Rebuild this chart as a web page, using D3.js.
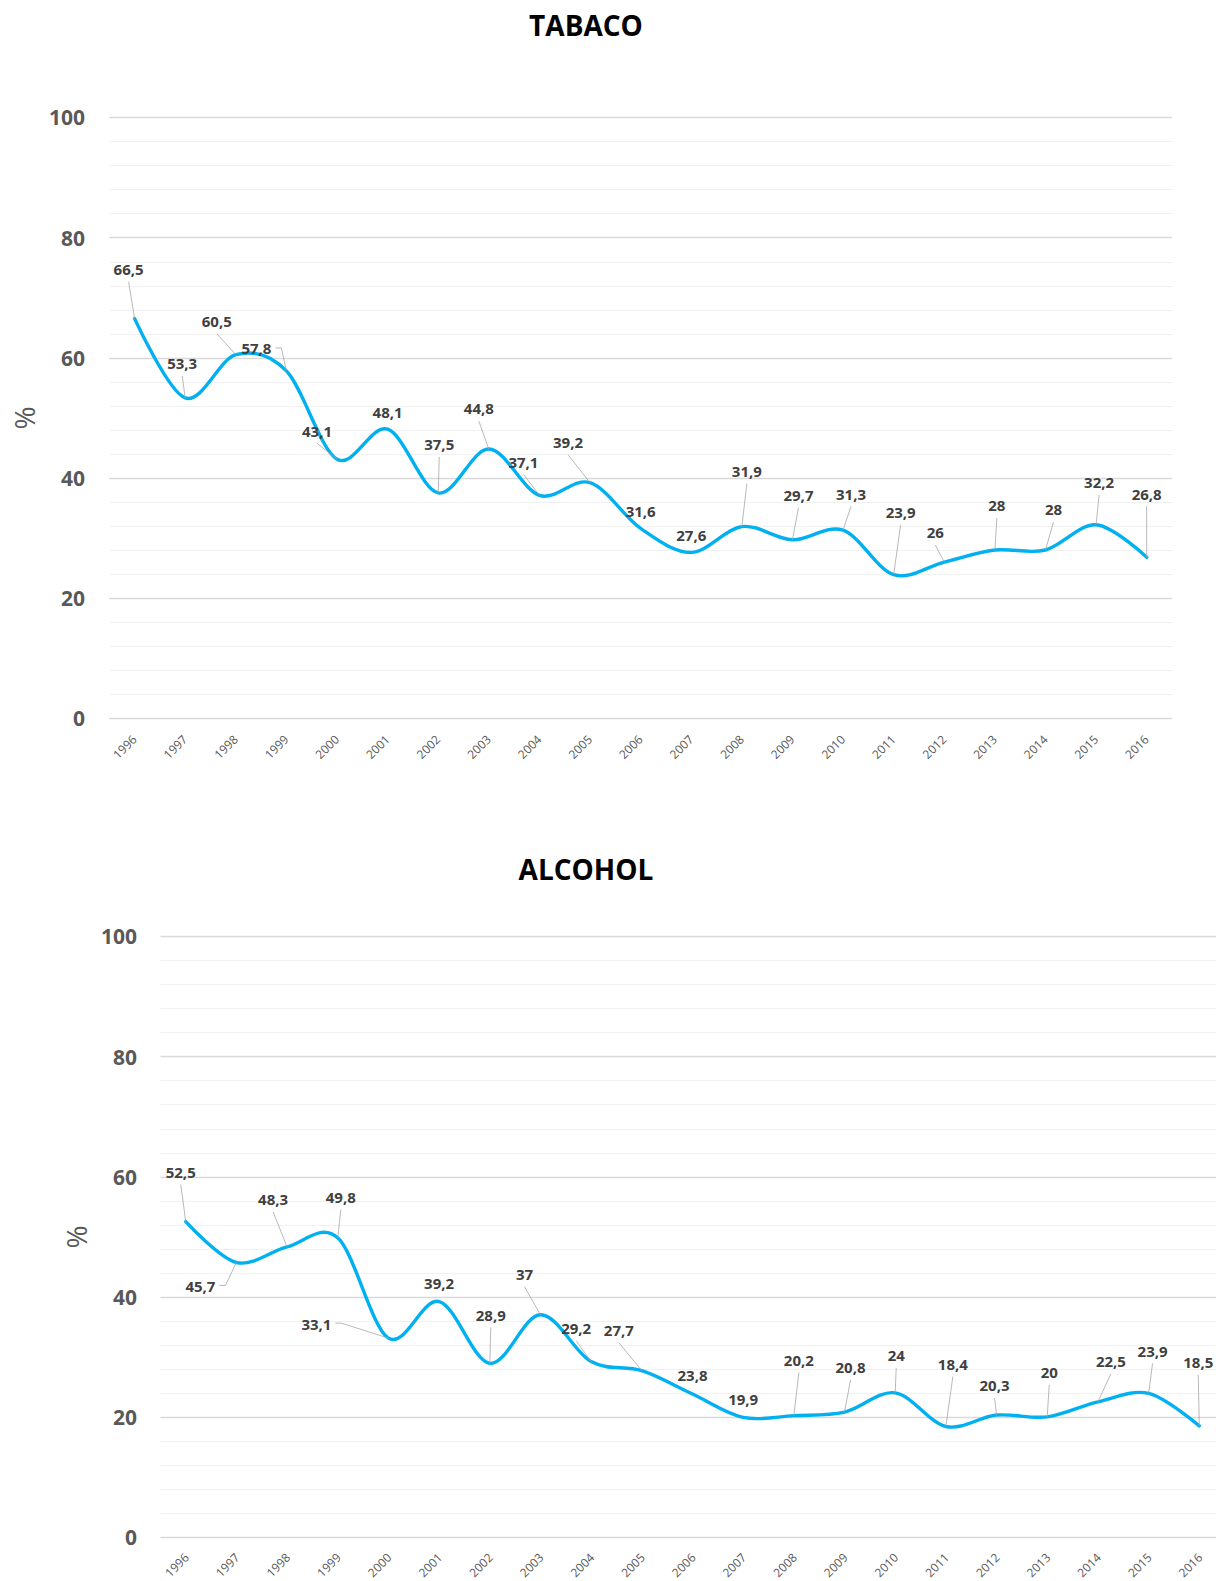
<!DOCTYPE html>
<html>
<head>
<meta charset="utf-8">
<script src="https://cdn.jsdelivr.net/npm/d3@7"></script>
<style>
  html, body { margin: 0; padding: 0; background: #fff; overflow: hidden; }
  svg { display: block; font-family: "Open Sans", "DejaVu Sans", sans-serif; }
</style>
</head>
<body>
<svg id="chart" width="1216" height="1581"></svg>
<script>
// Survey years shared by both series
const years = ["1996","1997","1998","1999","2000","2001","2002","2003","2004","2005","2006",
               "2007","2008","2009","2010","2011","2012","2013","2014","2015","2016"];

// Prevalence (%) per year
const tabacoValues  = [66.5,53.3,60.5,57.8,43.1,48.1,37.5,44.8,37.1,39.2,31.6,27.6,31.9,29.7,31.3,23.9,26,28,28,32.2,26.8];
const alcoholValues = [52.5,45.7,48.3,49.8,33.1,39.2,28.9,37,29.2,27.7,23.8,19.9,20.2,20.8,24,18.4,20.3,20,22.5,23.9,18.5];

// Y axis labels and gridline step
const yTickValues = [0, 20, 40, 60, 80, 100];
const yGridStep = 4;

// Hand placement of value labels: [dx, dy, leader] relative to the point.
// leader: "b" = line from label bottom, "r" = elbow from the label's right side, "" = none
const tabacoLabelLayout = [
  [-6,-49,"b"],[-3,-34,"b"],[-19,-33,"b"],[-30,-22,"r"],[-20,-28,"b"],[0,-17,""],
  [1,-48,"b"],[-10,-40,"b"],[-16,-33,"b"],[-22,-40,"b"],[0,-17,""],[0,-17,""],
  [5,-55,"b"],[6,-44,"b"],[8,-36,"b"],[7,-62,"b"],[-9,-29,"b"],[2,-44,"b"],
  [8,-40,"b"],[3,-42,"b"],[0,-63,"b"]
];
const alcoholLabelLayout = [
  [-5,-49,"b"],[-36,24,"r"],[-14,-47,"b"],[3,-40,"b"],[-72,-14,"r"],[0,-18,""],
  [1,-48,"b"],[-16,-40,"b"],[-15,-33,"b"],[-23,-40,"b"],[0,-18,""],[0,-18,""],
  [5,-55,"b"],[6,-44,"b"],[1,-37,"b"],[7,-62,"b"],[-2,-29,"b"],[2,-44,"b"],
  [13,-40,"b"],[4,-42,"b"],[-1,-63,"b"]
];

const fmt = v => String(v).replace(".", ",");
const svg = d3.select("#chart");

function drawChart(cfg) {
  const g = svg.append("g");

  const x = d3.scaleBand().domain(years).range([cfg.left, cfg.right]);
  const y = d3.scaleLinear().domain([0, 100]).range([cfg.bottom, cfg.top]);
  const cx = d => x(d) + x.bandwidth() / 2;

  // gridlines (major every 20, minor every 4)
  g.append("g").selectAll("line")
    .data(d3.range(0, 100 + 0.001, yGridStep))
    .join("line")
    .attr("x1", cfg.left).attr("x2", cfg.right)
    .attr("y1", d => Math.round(y(d)) + 0.5).attr("y2", d => Math.round(y(d)) + 0.5)
    .attr("stroke", d => d % 20 === 0 ? "#d9d9d9" : "#f0f0f0")
    .attr("stroke-width", d => d % 20 === 0 ? 1.5 : 1);

  // y tick labels
  const yAxis = g.append("g")
    .attr("transform", `translate(${cfg.yLabelRight},0)`)
    .call(d3.axisLeft(y).tickValues(yTickValues).tickSize(0).tickPadding(0));
  yAxis.select(".domain").remove();
  yAxis.selectAll("text")
    .attr("font-family", "'Open Sans', sans-serif")
    .attr("font-size", 21).attr("font-weight", 700).attr("fill", "#595959")
    .attr("dy", "0.36em");

  // x tick labels, rotated
  const xAxis = g.append("g")
    .attr("transform", `translate(0,${cfg.bottom})`)
    .call(d3.axisBottom(x).tickSize(0));
  xAxis.select(".domain").remove();
  xAxis.selectAll("text")
    .attr("font-family", "'Open Sans', sans-serif")
    .attr("font-size", 12).attr("fill", "#595959")
    .attr("y", 0).attr("dy", 0).attr("x", 0)
    .attr("text-anchor", "end")
    .attr("transform", `translate(${cfg.xLabelDx},${cfg.xLabelDy}) rotate(-45)`);

  // title
  g.append("text")
    .attr("x", cfg.titleX).attr("y", cfg.titleY)
    .attr("text-anchor", "middle")
    .attr("font-size", 28).attr("font-weight", 700).attr("fill", "#000")
    .text(cfg.title);

  // y axis name
  g.append("text")
    .attr("transform", `translate(${cfg.pctX},${cfg.pctY}) rotate(-90)`)
    .attr("text-anchor", "middle")
    .attr("font-size", 28).attr("fill", "#595959")
    .text("%");

  // smoothed series line
  const line = d3.line()
    .x((d, i) => cx(years[i]))
    .y(d => y(d))
    .curve(d3.curveCatmullRom.alpha(0));

  g.append("path")
    .datum(cfg.values)
    .attr("d", line)
    .attr("fill", "none")
    .attr("stroke", "#00b0f0")
    .attr("stroke-width", 3.4)
    .attr("stroke-linecap", "round")
    .attr("stroke-linejoin", "round");

  // value labels with leader lines
  const labels = g.append("g");
  cfg.values.forEach((v, i) => {
    const px = cx(years[i]), py = y(v);
    const [dx, dy, leader] = cfg.layout[i];
    const lx = px + dx, ly = py + dy;
    const t = labels.append("text")
      .attr("x", lx).attr("y", ly).attr("dy", "0.36em")
      .attr("text-anchor", "middle")
      .attr("font-size", 15).attr("font-weight", 700).attr("fill", "#404040")
      .text(fmt(v));
    const w = t.node().getComputedTextLength();
    if (leader === "b") {
      labels.insert("line", "text")
        .attr("x1", lx).attr("y1", ly + 12)
        .attr("x2", px).attr("y2", py)
        .attr("stroke", "#a6a6a6").attr("stroke-width", 0.8);
    } else if (leader === "r") {
      const sx = lx + w / 2 + 4, sy = ly - 1;
      labels.insert("polyline", "text")
        .attr("points", `${sx},${sy} ${sx + 6},${sy} ${px},${py}`)
        .attr("fill", "none")
        .attr("stroke", "#a6a6a6").attr("stroke-width", 0.8);
    }
  });
}

drawChart({
  title: "TABACO", titleX: 586, titleY: 36,
  values: tabacoValues, layout: tabacoLabelLayout,
  left: 109.3, right: 1172, top: 117.3, bottom: 718.3,
  yLabelRight: 85, pctX: 35, pctY: 418,
  xLabelDx: 3, xLabelDy: 22
});

drawChart({
  title: "ALCOHOL", titleX: 586, titleY: 880,
  values: alcoholValues, layout: alcoholLabelLayout,
  left: 160.4, right: 1224.6, top: 936.3, bottom: 1537,
  yLabelRight: 137, pctX: 87, pctY: 1237,
  xLabelDx: 4, xLabelDy: 21.5
});
</script>
</body>
</html>
